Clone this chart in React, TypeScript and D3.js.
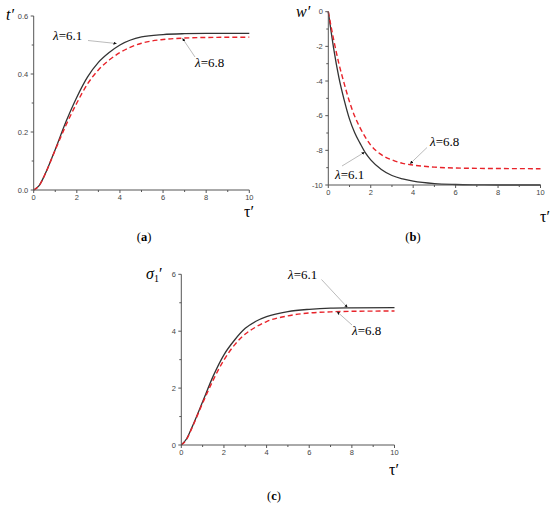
import * as React from 'react';
import * as d3 from 'd3';

// shared time axis (tau')
const tau = [0, 0.25, 0.5, 1, 1.5, 2, 2.5, 3, 3.5, 4, 5, 6, 7, 8, 10];
const tauW = [0, 0.25, 0.5, 0.75, 1, 1.25, 1.5, 1.75, 2, 2.5, 3, 3.5, 4, 5, 6, 7, 8, 10];

// (a) t'
const tA61 = [0, 0.015, 0.05, 0.14, 0.236, 0.32, 0.39, 0.44, 0.474, 0.5, 0.528, 0.536, 0.539, 0.54, 0.54];
const tA68 = [0, 0.015, 0.05, 0.138, 0.224, 0.3, 0.366, 0.414, 0.448, 0.474, 0.506, 0.519, 0.524, 0.526, 0.527];

// (b) w'
const wB61 = [0, -2.1, -3.8, -5.1, -6.2, -7.0, -7.6, -8.15, -8.55, -9.1, -9.45, -9.65, -9.78, -9.92, -9.97, -9.99, -10, -10];
const wB68 = [0, -1.6, -3.0, -4.15, -5.2, -6.05, -6.7, -7.25, -7.7, -8.25, -8.55, -8.75, -8.85, -8.97, -9.02, -9.04, -9.05, -9.06];

// (c) sigma1'
const sC61 = [0, 0.22, 0.62, 1.52, 2.43, 3.17, 3.69, 4.1, 4.35, 4.51, 4.69, 4.77, 4.81, 4.82, 4.83];
const sC68 = [0, 0.2, 0.6, 1.47, 2.29, 2.99, 3.52, 3.9, 4.15, 4.34, 4.54, 4.64, 4.68, 4.7, 4.71];

const xTicks = [0, 2, 4, 6, 8, 10];
const xMinor = [1, 3, 5, 7, 9];

const axisColor = '#555';
const tickFont = '"Liberation Sans", Arial, sans-serif';
const serif = '"Liberation Serif", "Times New Roman", serif';

const Panel = ({ x0, x1, y0, y1, yDom, yTicks, yMinor, yFmt, xs, s61, s68, notes, children }: any) => {
  const x = d3.scaleLinear().domain([0, 10]).range([x0, x1]);
  const y = d3.scaleLinear().domain(yDom).range([y0, y1]);
  const line = d3.line<number>()
    .x((_, i) => x(xs[i]))
    .y((d) => y(d))
    .curve(d3.curveMonotoneX);
  const bottom = y0;
  return (
    <g>
      {/* curves */}
      <path d={line(s61) || ''} fill="none" stroke="#333" strokeWidth={1.3} />
      <path d={line(s68) || ''} fill="none" stroke="#e8232a" strokeWidth={1.4} strokeDasharray="5,3" />
      {/* axes */}
      <line x1={x0} x2={x1} y1={bottom} y2={bottom} stroke={axisColor} strokeWidth={1} />
      <line x1={x0} x2={x0} y1={bottom} y2={y1} stroke={axisColor} strokeWidth={1} />
      {xTicks.map((t) => (
        <g key={'xt' + t}>
          <line x1={x(t)} x2={x(t)} y1={bottom} y2={bottom + 3} stroke={axisColor} />
          <text x={x(t)} y={bottom + 9.5} fontSize={7.5} fontFamily={tickFont} fill="#444" textAnchor="middle">{t}</text>
        </g>
      ))}
      {xMinor.map((t) => (
        <line key={'xm' + t} x1={x(t)} x2={x(t)} y1={bottom} y2={bottom + 2} stroke={axisColor} />
      ))}
      {yTicks.map((t: number) => (
        <g key={'yt' + t}>
          <line x1={x0 - 3} x2={x0} y1={y(t)} y2={y(t)} stroke={axisColor} />
          <text x={x0 - 5.5} y={y(t) + 2.6} fontSize={7.5} fontFamily={tickFont} fill="#444" textAnchor="end">{yFmt(t)}</text>
        </g>
      ))}
      {yMinor.map((t: number) => (
        <line key={'ym' + t} x1={x0 - 2} x2={x0} y1={y(t)} y2={y(t)} stroke={axisColor} />
      ))}
      {/* lambda annotations */}
      {notes.map((n: any, i: number) => (
        <g key={'n' + i}>
          <line x1={n.fx} y1={n.fy} x2={x(n.tx)} y2={y(n.ty)} stroke="#aaa" strokeWidth={0.8} markerEnd="url(#arr)" />
          <text x={n.lx} y={n.ly} fontSize={13} fontFamily={serif}>
            <tspan fontStyle="italic">λ</tspan>=6.{n.v}
          </text>
        </g>
      ))}
      {children}
    </g>
  );
};

const App = () => (
  <svg width={550} height={505} style={{ position: 'absolute', left: 0, top: 0, background: '#fff' }}>
    <defs>
      <marker id="arr" viewBox="0 0 6 6" refX={6} refY={3} markerWidth={4} markerHeight={4} orient="auto">
        <path d="M0,0 L6,3 L0,6 Z" fill="#111" />
      </marker>
    </defs>

    <Panel
      x0={33.7} x1={249.3} y0={190} y1={16}
      yDom={[0, 0.6]} yTicks={[0, 0.2, 0.4, 0.6]} yMinor={[0.1, 0.3, 0.5]}
      yFmt={d3.format('.1f')} xs={tau} s61={tA61} s68={tA68}
      notes={[
        { v: 1, lx: 53, ly: 40, fx: 88, fy: 40.5, tx: 3.85, ty: 0.505 },
        { v: 8, lx: 195, ly: 67, fx: 195, fy: 57, tx: 6.9, ty: 0.523 },
      ]}
    >
      <text x={6} y={20} fontSize={16} fontFamily={serif} fontStyle="italic">t′</text>
      <text x={244} y={217} fontSize={16} fontFamily={serif}>τ′</text>
      <text x={144} y={241} fontSize={12.5} fontFamily={serif} textAnchor="middle">(<tspan fontWeight="bold">a</tspan>)</text>
    </Panel>

    <Panel
      x0={328.3} x1={540.5} y0={185} y1={11.7}
      yDom={[-10, 0]} yTicks={[-10, -8, -6, -4, -2, 0]} yMinor={[-9, -7, -5, -3, -1]}
      yFmt={(d: number) => String(d)} xs={tauW} s61={wB61} s68={wB68}
      notes={[
        { v: 8, lx: 430, ly: 146, fx: 427, fy: 147.5, tx: 3.85, ty: -8.78 },
        { v: 1, lx: 335, ly: 179, fx: 342, fy: 166, tx: 1.72, ty: -8.1 },
      ]}
    >
      <text x={296} y={17} fontSize={16} fontFamily={serif} fontStyle="italic">w′</text>
      <text x={540} y={222} fontSize={16} fontFamily={serif}>τ′</text>
      <text x={413} y={241} fontSize={12.5} fontFamily={serif} textAnchor="middle">(<tspan fontWeight="bold">b</tspan>)</text>
    </Panel>

    <Panel
      x0={181.3} x1={394.5} y0={445} y1={274.3}
      yDom={[0, 6]} yTicks={[0, 2, 4, 6]} yMinor={[1, 3, 5]}
      yFmt={(d: number) => String(d)} xs={tau} s61={sC61} s68={sC68}
      notes={[
        { v: 1, lx: 288, ly: 279, fx: 321.5, fy: 279.5, tx: 7.8, ty: 4.83 },
        { v: 8, lx: 352, ly: 335, fx: 352, fy: 325, tx: 7.3, ty: 4.69 },
      ]}
    >
      <text x={146} y={279} fontSize={16} fontFamily={serif} fontStyle="italic">σ<tspan fontSize={10} fontStyle="normal" dy={3}>1</tspan><tspan dy={-3} fontStyle="normal">′</tspan></text>
      <text x={389} y={475} fontSize={16} fontFamily={serif}>τ′</text>
      <text x={274} y={500} fontSize={12.5} fontFamily={serif} textAnchor="middle">(<tspan fontWeight="bold">c</tspan>)</text>
    </Panel>
  </svg>
);

export default App;
